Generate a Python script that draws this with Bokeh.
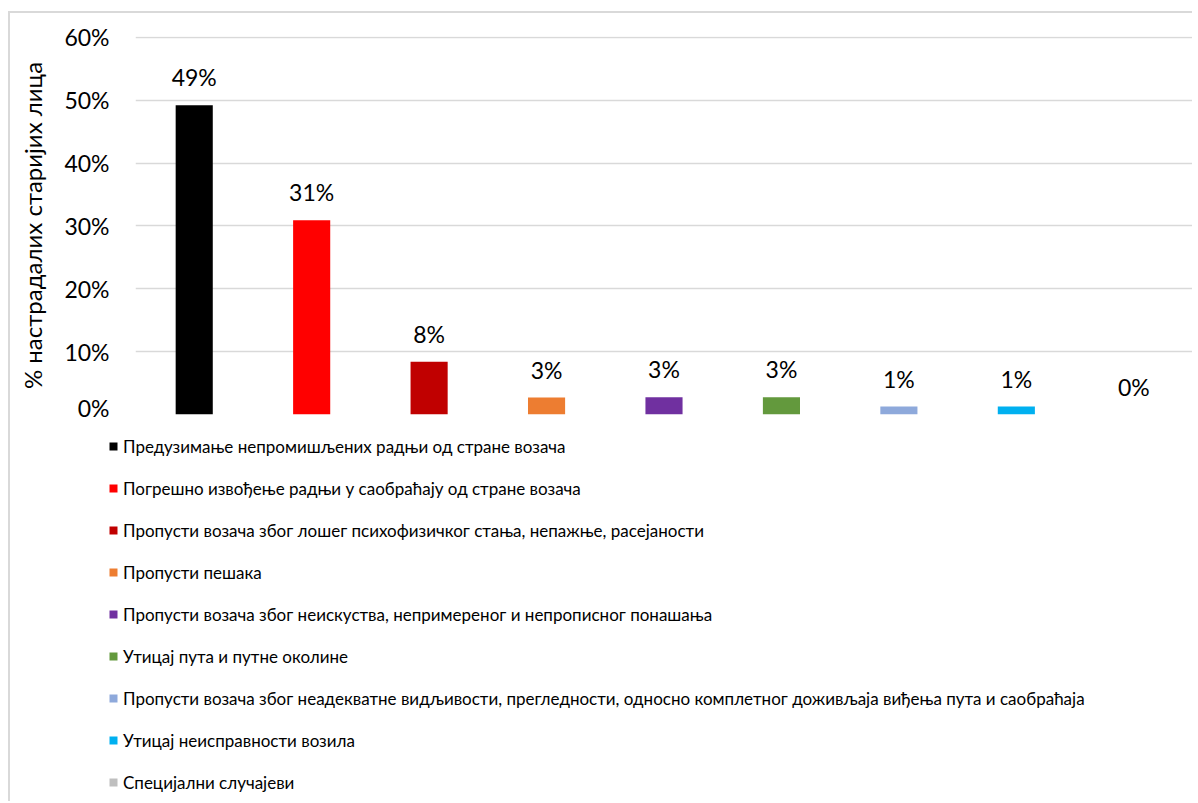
from bokeh.plotting import figure
from bokeh.layouts import column
from bokeh.models import ColumnDataSource, FactorRange, Legend, LegendItem, NumeralTickFormatter, FixedTicker
from bokeh.core.properties import value
from bokeh.embed import file_html
from bokeh.resources import INLINE

categories = [
    "Предузимање непромишљених радњи од стране возача",
    "Погрешно извођење радњи у саобраћају од стране возача",
    "Пропусти возача због лошег психофизичког стања, непажње, расејаности",
    "Пропусти пешака",
    "Пропусти возача због неискуства, непримереног и непрописног понашања",
    "Утицај пута и путне околине",
    "Пропусти возача због неадекватне видљивости, прегледности, односно комплетног доживљаја виђења пута и саобраћаја",
    "Утицај неисправности возила",
    "Специјални случајеви",
]
values = [0.492, 0.309, 0.084, 0.027, 0.0275, 0.0275, 0.0127, 0.0127, 0.0]
labels = ["49%", "31%", "8%", "3%", "3%", "3%", "1%", "1%", "0%"]
colors = ["#000000", "#FF0000", "#C00000", "#ED7D31", "#7030A0", "#63993D", "#8EA9DB", "#00B0F0", "#BFBFBF"]
y_ticks = [0, 0.1, 0.2, 0.3, 0.4, 0.5, 0.6]
y_title = "% настрадалих старијих лица"

FONT = "Lato"
W = 1182

src = ColumnDataSource(dict(cat=categories, val=values, lab=labels, col=colors))

p = figure(width=W, height=408, x_range=FactorRange(*categories), y_range=(0, 0.6015),
           output_backend="svg", toolbar_location=None,
           min_border_left=125, min_border_right=0, min_border_top=23, min_border_bottom=7)
p.frame_align = False

bars = p.vbar(x="cat", top="val", width=0.316, fill_color="col", line_color=None, source=src)
p.text(x="cat", y="val", text="lab", source=src, text_align="center", text_baseline="alphabetic",
       y_offset=-28, text_font=value(FONT), text_font_size="23px", text_color="#000000")

p.xaxis.visible = False
p.xgrid.visible = False
p.ygrid.grid_line_color = "#D9D9D9"
p.ygrid.grid_line_width = 1.5
p.yaxis.ticker = FixedTicker(ticks=y_ticks)
p.yaxis.formatter = NumeralTickFormatter(format="0%")
p.yaxis.axis_line_color = None
p.yaxis.major_tick_line_color = None
p.yaxis.minor_tick_line_color = None
p.yaxis.major_label_standoff = 20
p.yaxis.major_label_text_font = FONT
p.yaxis.major_label_text_font_size = "23px"
p.yaxis.major_label_text_color = "#000000"
p.yaxis.axis_label = y_title
p.yaxis.axis_label_text_font = FONT
p.yaxis.axis_label_text_font_size = "24px"
p.yaxis.axis_label_text_font_style = "normal"
p.yaxis.axis_label_text_color = "#000000"
p.yaxis.axis_label_standoff = 14
p.outline_line_color = None

# legend area (separate figure below the bars, legend keyed to the same data)
H2 = 380
p2 = figure(width=W, height=H2, x_range=FactorRange(*categories), y_range=(0, 1),
            output_backend="svg", toolbar_location=None,
            min_border_left=0, min_border_right=0, min_border_top=0, min_border_bottom=0)
p2.frame_align = False
p2.axis.visible = False
p2.grid.visible = False
p2.outline_line_color = None
leg_bars = p2.vbar(x="cat", top="val", width=0.316, fill_color="col", line_color=None,
                   source=src, visible=False)

n = len(categories)
label_h, spacing, pad = 24, 18, 4
leg_h = n * label_h + (n - 1) * spacing + 2 * pad
items = [LegendItem(label=c, renderers=[leg_bars], index=i) for i, c in enumerate(categories)]
legend = Legend(items=items, orientation="vertical", location=(98, H2 - 5 - leg_h),
                glyph_width=10, glyph_height=10, label_height=label_h, spacing=spacing,
                label_standoff=5, padding=pad, margin=0,
                label_text_font=FONT, label_text_font_size="17px", label_text_color="#000000",
                border_line_color=None, background_fill_alpha=0)
p2.add_layout(legend, "center")

layout = column(p, p2, spacing=0, margin=(11, 0, 0, 8),
                styles={"border-left": "2px solid #D9D9D9", "border-top": "2px solid #D9D9D9"})
open("out.html", "w").write(file_html(layout, INLINE))
